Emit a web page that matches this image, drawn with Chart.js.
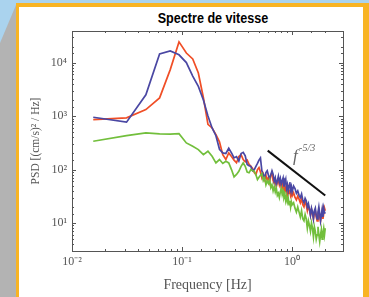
<!DOCTYPE html>
<html lang="fr">
<head>
<meta charset="UTF-8">
<title>Spectre de vitesse</title>
<script src="https://cdn.jsdelivr.net/npm/chart.js"></script>
<style>
    body {
        margin: 0;
        width: 369px;
        height: 297px;
        overflow: hidden;
        position: relative;
        background: #aad3ee;
    }
    .side {
        position: absolute;
        left: 0; top: 0;
        width: 17px; height: 297px;
        background: #b3b3b3;
        clip-path: polygon(16px 5px, 17px 5px, 17px 297px, 0 297px, 0 43px);
    }
    .frame {
        position: absolute;
        left: 16px; top: 3px;
        width: 344px; height: 300px;
        background: #fff;
        border-left: 3px solid #f8b424;
        border-top: 4px solid #f8b424;
        border-right: 6px solid #f8b424;
    }
    .title {
        position: absolute;
        left: 213px; top: 10px;
        transform: translateX(-50%) scaleX(0.84);
        font: bold 15px "Liberation Sans", Arial, sans-serif;
        line-height: 15px;
        white-space: nowrap;
        color: #000;
    }
    canvas { position: absolute; left: 0; top: 0; }
</style>
</head>
<body>
<div class="side"></div>
<div class="frame"></div>
<div class="title">Spectre de vitesse</div>
<canvas id="psdChart" width="369" height="297"></canvas>

<script>
    // frequencies (Hz), linear step 1/64 Hz
    const freqs = [0.0156, 0.0313, 0.0469, 0.0625, 0.0781, 0.0938, 0.1094, 0.125, 0.1406, 0.1563, 0.1719, 0.1875, 0.2031, 0.2188, 0.2344, 0.25,
        0.2656, 0.2813, 0.2969, 0.3125, 0.3281, 0.3438, 0.3594, 0.375, 0.3906, 0.4063, 0.4219, 0.4375, 0.4531, 0.4688, 0.4844, 0.5,
        0.5156, 0.5313, 0.5469, 0.5625, 0.5781, 0.5938, 0.6094, 0.625, 0.6406, 0.6563, 0.6719, 0.6875, 0.7031, 0.7188, 0.7344, 0.75,
        0.7656, 0.7813, 0.7969, 0.8125, 0.8281, 0.8438, 0.8594, 0.875, 0.8906, 0.9063, 0.9219, 0.9375, 0.9531, 0.9688, 0.9844, 1.0,
        1.0313, 1.0625, 1.0938, 1.125, 1.1563, 1.1875, 1.2188, 1.25, 1.2813, 1.3125, 1.3438, 1.375, 1.4063, 1.4375, 1.4688, 1.5,
        1.5313, 1.5625, 1.5938, 1.625, 1.6563, 1.6875, 1.7188, 1.75, 1.7813, 1.8125, 1.8438, 1.875, 1.9063, 1.9375, 1.9688, 2.0];

    const psdBlue = [950, 770, 2500, 14500, 16500, 14000, 10000, 5600, 3600, 2000, 1000, 600, 430, 240, 205, 200,
        250, 205, 165, 175, 145, 200, 210, 180, 125, 118, 115, 95, 100, 115, 130, 150,
        165, 95, 80, 72, 88, 95, 78, 68, 80, 95, 82, 60, 70, 52, 62, 75,
        58, 68, 52, 62, 70, 48, 58, 66, 44, 52, 40, 50, 58, 42, 48, 38,
        49, 44, 36, 40, 33, 30, 35, 27, 24, 29, 26, 20, 23, 18, 14, 19,
        16, 12, 17, 19, 14, 12, 16, 20, 15, 11, 14, 18, 13, 19, 16, 15];

    const psdRed = [860, 925, 1320, 2190, 7400, 24400, 15100, 11700, 6400, 2200, 700, 600, 450, 330, 190, 154,
        205, 175, 150, 134, 175, 190, 154, 140, 150, 125, 115, 105, 88, 81, 100, 109,
        90, 70, 82, 65, 78, 62, 72, 58, 80, 88, 62, 56, 66, 48, 58, 64,
        52, 62, 46, 54, 42, 50, 38, 46, 40, 34, 44, 36, 42, 33, 38, 32,
        37, 30, 27, 32, 28, 24, 29, 22, 20, 25, 22, 17, 21, 18, 14, 18,
        15, 12, 16, 17, 13, 11, 15, 17, 13, 11, 14, 17, 12, 15, 19, 17];

    const psdGreen = [338, 432, 485, 464, 458, 470, 315, 272, 236, 190, 220, 177, 133, 154, 130, 143,
        133, 100, 73, 81, 93, 115, 133, 115, 90, 87, 100, 95, 93, 80, 65, 72,
        78, 84, 62, 70, 52, 62, 55, 64, 46, 52, 40, 48, 38, 45, 33, 36,
        30, 38, 44, 34, 40, 30, 34, 26, 32, 25, 29, 22, 26, 20, 25, 22,
        24, 19, 16, 20, 16, 13, 17, 12, 11, 14.5, 12, 8, 11, 9, 7, 10,
        8, 5.5, 8.5, 7, 5, 6, 8.5, 6, 4.5, 6, 7.5, 5, 6.5, 8, 6, 8];

    // f^-5/3 reference segment
    const slopeFreqs = [0.6, 2.0];
    const slopeValues = [226, 32.7];

    const xTickValues = [0.01, 0.1, 1];
    const xTickLabels = ['10\u207B\u00B2', '10\u207B\u00B9', '10\u2070'];
    const yTickValues = [10, 100, 1000, 10000];
    const yTickLabels = ['10\u00B9', '10\u00B2', '10\u00B3', '10\u2074'];

    function pts(xs, ys) {
        return xs.map((x, i) => ({ x: x, y: ys[i] }));
    }

    function decadeLabel(values, labels) {
        return function (value) {
            const i = values.findIndex(v => Math.abs(v - value) / v < 1e-6);
            return i >= 0 ? labels[i] : '';
        };
    }

    function isDecade(v) {
        const l = Math.log10(v);
        return Math.abs(l - Math.round(l)) < 1e-6;
    }

    // box around the plot + inward ticks on all four sides, matlab style
    const boxTicks = {
        id: 'boxTicks',
        afterDraw(chart) {
            const { ctx, chartArea: a, scales: { x, y } } = chart;
            ctx.save();
            ctx.strokeStyle = '#555';
            ctx.lineWidth = 1;
            ctx.strokeRect(a.left + 0.5, a.top + 0.5, a.right - a.left, a.bottom - a.top);
            ctx.beginPath();
            x.ticks.forEach(t => {
                if (t.value <= x.min || t.value >= x.max) return;
                const px = Math.round(x.getPixelForValue(t.value)) + 0.5;
                const len = isDecade(t.value) ? 4 : 2;
                ctx.moveTo(px, a.bottom); ctx.lineTo(px, a.bottom - len);
                ctx.moveTo(px, a.top); ctx.lineTo(px, a.top + len);
            });
            y.ticks.forEach(t => {
                if (t.value <= y.min || t.value >= y.max) return;
                const py = Math.round(y.getPixelForValue(t.value)) + 0.5;
                const len = isDecade(t.value) ? 4 : 2;
                ctx.moveTo(a.left, py); ctx.lineTo(a.left + len, py);
                ctx.moveTo(a.right, py); ctx.lineTo(a.right - len, py);
            });
            ctx.stroke();

            // f^-5/3 label next to the segment
            const fx = x.getPixelForValue(1.0) + 1;
            const fy = y.getPixelForValue(100) - 9;
            ctx.fillStyle = '#666';
            ctx.textBaseline = 'alphabetic';
            ctx.font = 'italic 17px "Liberation Serif", serif';
            ctx.fillText('f', fx, fy);
            ctx.font = 'italic 10px "Liberation Serif", serif';
            ctx.fillText('-5/3', fx + 6, fy - 10);
            ctx.restore();
        }
    };

    const serif = '"Liberation Serif", "Times New Roman", serif';

    new Chart(document.getElementById('psdChart'), {
        type: 'line',
        data: {
            datasets: [
                { label: 'f^-5/3', data: pts(slopeFreqs, slopeValues), borderColor: '#111', borderWidth: 2 },
                { label: 'green', data: pts(freqs, psdGreen), borderColor: '#72bf3c', borderWidth: 1.7 },
                { label: 'blue', data: pts(freqs, psdBlue), borderColor: '#4a47a3', borderWidth: 1.7 },
                { label: 'red', data: pts(freqs, psdRed), borderColor: '#f04e26', borderWidth: 1.7 }
            ]
        },
        options: {
            responsive: false,
            animation: false,
            devicePixelRatio: 1,
            elements: { point: { radius: 0 }, line: { tension: 0 } },
            layout: { padding: { left: 0, right: 26, top: 31, bottom: 0 } },
            plugins: { legend: { display: false }, tooltip: { enabled: false }, title: { display: false } },
            scales: {
                x: {
                    type: 'logarithmic',
                    min: 0.01,
                    max: 2.9,
                    grid: { display: false, drawTicks: false },
                    border: { display: false },
                    ticks: {
                        autoSkip: false, maxRotation: 0, padding: 4, color: '#555',
                        font: { family: serif, size: 12 },
                        callback: decadeLabel(xTickValues, xTickLabels)
                    },
                    title: {
                        display: true, text: 'Frequency [Hz]', color: '#555',
                        font: { family: serif, size: 14 }, padding: { top: 0, bottom: 3 }
                    },
                    afterFit: s => { s.height = 46; }
                },
                y: {
                    type: 'logarithmic',
                    min: 3,
                    max: 39000,
                    grid: { display: false, drawTicks: false },
                    border: { display: false },
                    ticks: {
                        autoSkip: false, padding: 5, color: '#555',
                        font: { family: serif, size: 12 },
                        callback: decadeLabel(yTickValues, yTickLabels)
                    },
                    title: {
                        display: true, text: 'PSD [(cm/s)\u00B2 / Hz]', color: '#555',
                        font: { family: serif, size: 11.5 }, padding: { top: 29, bottom: 0 }
                    },
                    afterFit: s => { s.width = 72; }
                }
            }
        },
        plugins: [boxTicks]
    });
</script>
</body>
</html>
